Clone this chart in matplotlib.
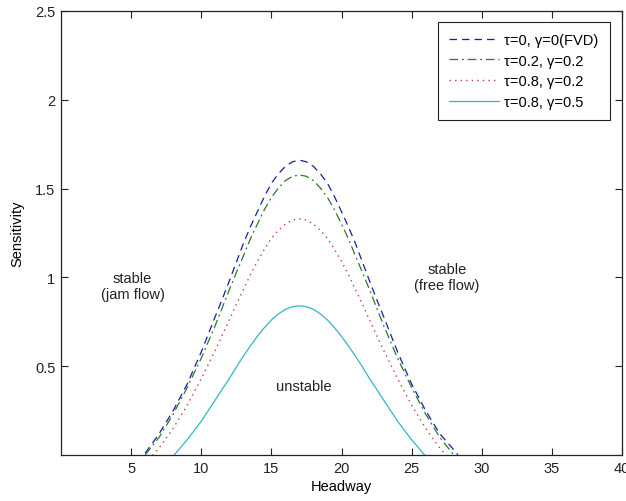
import matplotlib.pyplot as plt

plt.rcParams['font.family'] = ['Liberation Sans', 'DejaVu Sans']

# headway values (x) shared by the curves
headway = [6, 7, 8, 9, 10, 11, 11.5, 12, 12.5, 13, 13.5, 14, 14.5, 15, 15.5, 16, 16.5, 17,
           17.5, 18, 18.5, 19, 19.5, 20, 20.5, 21, 21.5, 22, 22.5, 23, 24, 25, 26, 27, 28, 28.3]

# sensitivity values
fvd = [0.01, 0.12, 0.25, 0.40, 0.58, 0.78, 0.878, 0.98, 1.085, 1.19, 1.284, 1.37, 1.455, 1.53, 1.583, 1.625, 1.651, 1.66,
       1.651, 1.625, 1.583, 1.53, 1.455, 1.37, 1.284, 1.19, 1.085, 0.98, 0.878, 0.78, 0.58, 0.40, 0.25, 0.12, 0.03, 0.0]
t02_g02 = [0.0, 0.10, 0.23, 0.38, 0.545, 0.73, 0.83, 0.93, 1.027, 1.12, 1.217, 1.30, 1.381, 1.45, 1.503, 1.545, 1.569, 1.577,
           1.569, 1.545, 1.503, 1.45, 1.381, 1.30, 1.217, 1.12, 1.027, 0.93, 0.83, 0.73, 0.545, 0.38, 0.23, 0.10, 0.0, -0.03]
t08_g02 = [-0.05, 0.04, 0.15, 0.28, 0.43, 0.59, 0.675, 0.76, 0.848, 0.93, 1.015, 1.09, 1.158, 1.22, 1.265, 1.30, 1.323, 1.33,
           1.323, 1.30, 1.265, 1.22, 1.158, 1.09, 1.015, 0.93, 0.848, 0.76, 0.675, 0.59, 0.43, 0.28, 0.15, 0.04, -0.05, -0.08]
t08_g05 = [-0.2, -0.1, -0.007, 0.086, 0.19, 0.31, 0.371, 0.43, 0.495, 0.556, 0.614, 0.668, 0.717, 0.76, 0.794, 0.82, 0.835, 0.84,
           0.835, 0.82, 0.794, 0.76, 0.717, 0.668, 0.614, 0.556, 0.495, 0.43, 0.371, 0.31, 0.19, 0.086, -0.007, -0.1, -0.2, -0.22]

labels = ['τ=0, γ=0(FVD)', 'τ=0.2, γ=0.2', 'τ=0.8, γ=0.2', 'τ=0.8, γ=0.5']

fs = 10.5
fig = plt.figure(figsize=(6.26, 5.02), dpi=100)
ax = fig.add_axes([61/626, 46/502, 561/626, 444/502])

ax.plot(headway, fvd, color='#1c1ca0', linestyle=(0, (6, 4)), linewidth=0.9, label=labels[0])
ax.plot(headway, t02_g02, color='#2a7a2a', linestyle=(0, (7, 3, 1.5, 3)), linewidth=0.9, label=labels[1])
ax.plot(headway, t08_g02, color='#c04040', linestyle=(0, (1, 3)), linewidth=1.0, label=labels[2])
ax.plot(headway, t08_g05, color='#30b8c0', linestyle='-', linewidth=0.9, label=labels[3])

ax.text(5.1, 0.95, 'stable\n(jam flow)', ha='center', va='center', fontsize=fs, color='#222222')
ax.text(27.5, 1.0, 'stable\n(free flow)', ha='center', va='center', fontsize=fs, color='#222222')
ax.text(17.3, 0.39, 'unstable', ha='center', va='center', fontsize=fs, color='#222222')

ax.set_xlim(0, 40)
ax.set_ylim(0, 2.5)
ax.set_xticks([5, 10, 15, 20, 25, 30, 35, 40])
ax.set_yticks([0.5, 1, 1.5, 2, 2.5])
ax.set_yticklabels(['0.5', '1', '1.5', '2', '2.5'])
ax.tick_params(direction='in', length=5, width=0.8, top=True, right=True, labelsize=fs,
               colors='#222222', pad=4)
for s in ax.spines.values():
    s.set_linewidth(0.9)
    s.set_color('#222222')

ax.set_xlabel('Headway', fontsize=fs, labelpad=3)
ax.set_ylabel('Sensitivity', fontsize=fs, labelpad=8)

leg = ax.legend(loc='upper right', bbox_to_anchor=(0.978, 0.975), borderaxespad=0, fontsize=fs,
                handlelength=3.4, handletextpad=0.4, labelspacing=0.45, fancybox=False,
                framealpha=1, edgecolor='#222222', borderpad=0.75)
leg.get_frame().set_linewidth(0.8)

plt.savefig('out.png', dpi=100)
